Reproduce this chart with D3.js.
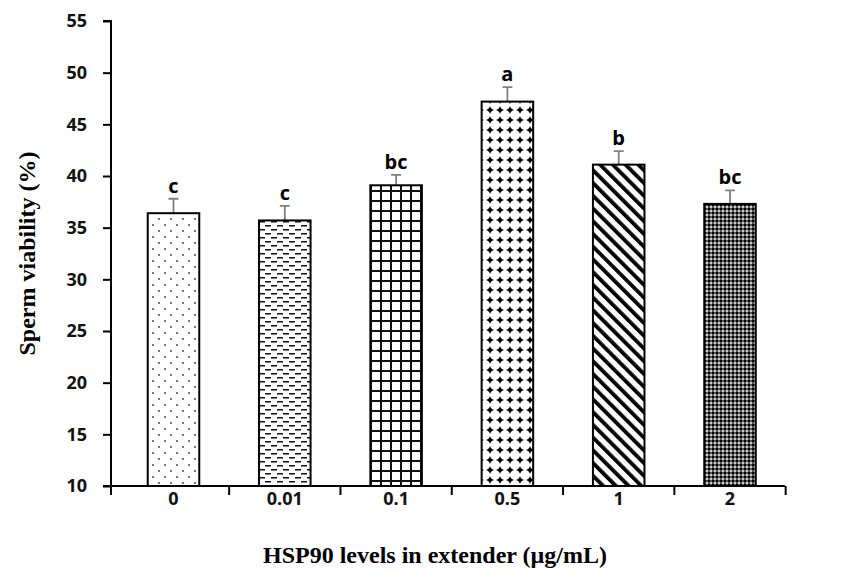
<!DOCTYPE html>
<html>
<head>
<meta charset="utf-8">
<script src="https://cdn.jsdelivr.net/npm/d3@7"></script>
<style>
  body { margin: 0; background: #fff; }
</style>
</head>
<body>
<div id="chart"></div>
<script>
      var levels = ['0', '0.01', '0.1', '0.5', '1', '2'];
      var viability = [36.4, 35.7, 39.1, 47.2, 41.1, 37.3];
      var errors = [1.4, 1.4, 1.0, 1.4, 1.3, 1.3];
      var letters = ['c', 'c', 'bc', 'a', 'b', 'bc'];
      var yTicks = [10, 15, 20, 25, 30, 35, 40, 45, 50, 55];

      var width = 865;
      var height = 571;
      var axisLeftX = 111;
      var axisRightX = 785;

      var svg = d3.select('#chart').append('svg')
          .attr('width', width)
          .attr('height', height);

      // fill patterns, one per bar
      var defs = svg.append('defs');

      var p1 = defs.append('pattern').attr('id', 'pat0')
          .attr('patternUnits', 'userSpaceOnUse').attr('width', 12).attr('height', 12);
      p1.append('circle').attr('cx', 3).attr('cy', 3).attr('r', 0.9).attr('fill', '#333');
      p1.append('circle').attr('cx', 9).attr('cy', 9).attr('r', 0.9).attr('fill', '#333');

      var p2 = defs.append('pattern').attr('id', 'pat1')
          .attr('patternUnits', 'userSpaceOnUse').attr('width', 12).attr('height', 8);
      p2.append('rect').attr('x', 1).attr('y', 1).attr('width', 6).attr('height', 1.5).attr('fill', '#111');
      p2.append('rect').attr('x', 7).attr('y', 5).attr('width', 6).attr('height', 1.5).attr('fill', '#111');
      p2.append('rect').attr('x', -5).attr('y', 5).attr('width', 6).attr('height', 1.5).attr('fill', '#111');

      var p3 = defs.append('pattern').attr('id', 'pat2')
          .attr('patternUnits', 'userSpaceOnUse').attr('width', 10).attr('height', 10);
      p3.append('rect').attr('x', 0).attr('y', 0).attr('width', 10).attr('height', 2).attr('fill', '#111');
      p3.append('rect').attr('x', 0).attr('y', 0).attr('width', 2).attr('height', 10).attr('fill', '#111');

      // white discs with black four-point stars between them
      var p4 = defs.append('pattern').attr('id', 'pat3')
          .attr('patternUnits', 'userSpaceOnUse').attr('width', 10).attr('height', 10);
      p4.append('rect').attr('width', 10).attr('height', 10).attr('fill', '#000');
      p4.append('circle').attr('cx', 5).attr('cy', 5).attr('r', 5.05).attr('fill', '#fff');

      var p5 = defs.append('pattern').attr('id', 'pat4')
          .attr('patternUnits', 'userSpaceOnUse').attr('width', 9).attr('height', 9)
          .attr('patternTransform', 'rotate(-45)');
      p5.append('rect').attr('x', 0).attr('y', 0).attr('width', 3.8).attr('height', 9).attr('fill', '#000');

      var p6 = defs.append('pattern').attr('id', 'pat5')
          .attr('patternUnits', 'userSpaceOnUse').attr('width', 4).attr('height', 4);
      p6.append('rect').attr('width', 4).attr('height', 4).attr('fill', '#555');
      p6.append('rect').attr('x', 0).attr('y', 0).attr('width', 2).attr('height', 2).attr('fill', '#000');
      p6.append('rect').attr('x', 2).attr('y', 2).attr('width', 2).attr('height', 2).attr('fill', '#ccc');

      var xScale = d3.scaleBand()
          .domain(levels)
          .range([axisLeftX, 792.5])
          .paddingInner(0.537)
          .paddingOuter(0.33);

      var yScale = d3.scaleLinear()
          .domain([10, 55])
          .range([486, 21]);

      var yAxis = d3.axisLeft(yScale)
          .tickValues(yTicks)
          .tickSize(8)
          .tickPadding(16);

      var xAxis = d3.axisBottom(xScale)
          .tickSize(0)
          .tickPadding(6);

      var gy = svg.append('g')
          .attr('transform', 'translate(' + axisLeftX + ',0)')
          .call(yAxis);
      gy.select('.domain').attr('stroke-width', 2).attr('d',
          'M-8,' + yScale(55) + 'H0V' + (yScale(10) + 9));
      gy.selectAll('line').attr('stroke-width', 2);

      var gx = svg.append('g')
          .attr('transform', 'translate(0,' + yScale(10) + ')')
          .call(xAxis);
      gx.select('.domain').attr('stroke-width', 2)
          .attr('d', 'M' + (axisLeftX - 8) + ',0H' + axisRightX);

      // tick marks between categories
      var step = xScale.step();
      gx.selectAll('.sep')
          .data(d3.range(levels.length))
          .enter().append('line')
            .attr('class', 'sep')
            .attr('x1', (d) => xScale(levels[d]) + xScale.bandwidth() / 2 + step / 2)
            .attr('x2', (d) => xScale(levels[d]) + xScale.bandwidth() / 2 + step / 2)
            .attr('y1', 0).attr('y2', 9)
            .attr('stroke', '#000').attr('stroke-width', 2);

      svg.selectAll('.tick text')
          .attr('font-family', 'Open Sans, sans-serif')
          .attr('font-weight', 'bold')
          .attr('font-size', 18)
          .attr('fill', '#111');

      // error bars
      svg.selectAll('.err')
          .data(levels)
          .enter().append('path')
            .attr('class', 'err')
            .attr('d', (d, i) => {
              var cx = xScale(d) + xScale.bandwidth() / 2;
              var top = yScale(viability[i] + errors[i]);
              return 'M' + cx + ',' + yScale(viability[i]) + 'V' + top + 'M' + (cx - 5) + ',' + top + 'H' + (cx + 5);
            })
            .attr('stroke', '#808080').attr('stroke-width', 1.8).attr('fill', 'none');

      // bars
      svg.selectAll('.bar')
          .data(levels)
          .enter().append('rect')
            .attr('class', 'bar')
            .attr('x', (d) => xScale(d))
            .attr('y', (d, i) => yScale(viability[i]))
            .attr('width', xScale.bandwidth())
            .attr('height', (d, i) => yScale(10) - yScale(viability[i]))
            .attr('fill', (d, i) => 'url(#pat' + i + ')')
            .attr('stroke', '#000').attr('stroke-width', 2);

      // significance letters
      svg.selectAll('.letter')
          .data(levels)
          .enter().append('text')
            .attr('class', 'letter')
            .attr('x', (d) => xScale(d) + xScale.bandwidth() / 2)
            .attr('y', (d, i) => yScale(viability[i] + errors[i]) - 6)
            .attr('text-anchor', 'middle')
            .attr('font-family', 'Open Sans, sans-serif')
            .attr('font-weight', 'bold')
            .attr('font-size', 20)
            .text((d, i) => letters[i]);

      // axis titles
      svg.append('text')
          .attr('x', 435)
          .attr('y', 563)
          .attr('text-anchor', 'middle')
          .attr('font-family', 'Liberation Serif, serif')
          .attr('font-weight', 'bold')
          .attr('font-size', 24)
          .text('HSP90 levels in extender (µg/mL)');

      svg.append('text')
          .attr('transform', 'rotate(-90)')
          .attr('x', -(yScale(10) + yScale(55)) / 2)
          .attr('y', 35)
          .attr('text-anchor', 'middle')
          .attr('font-family', 'Liberation Serif, serif')
          .attr('font-weight', 'bold')
          .attr('font-size', 24)
          .text('Sperm viability (%)');
</script>
</body>
</html>
